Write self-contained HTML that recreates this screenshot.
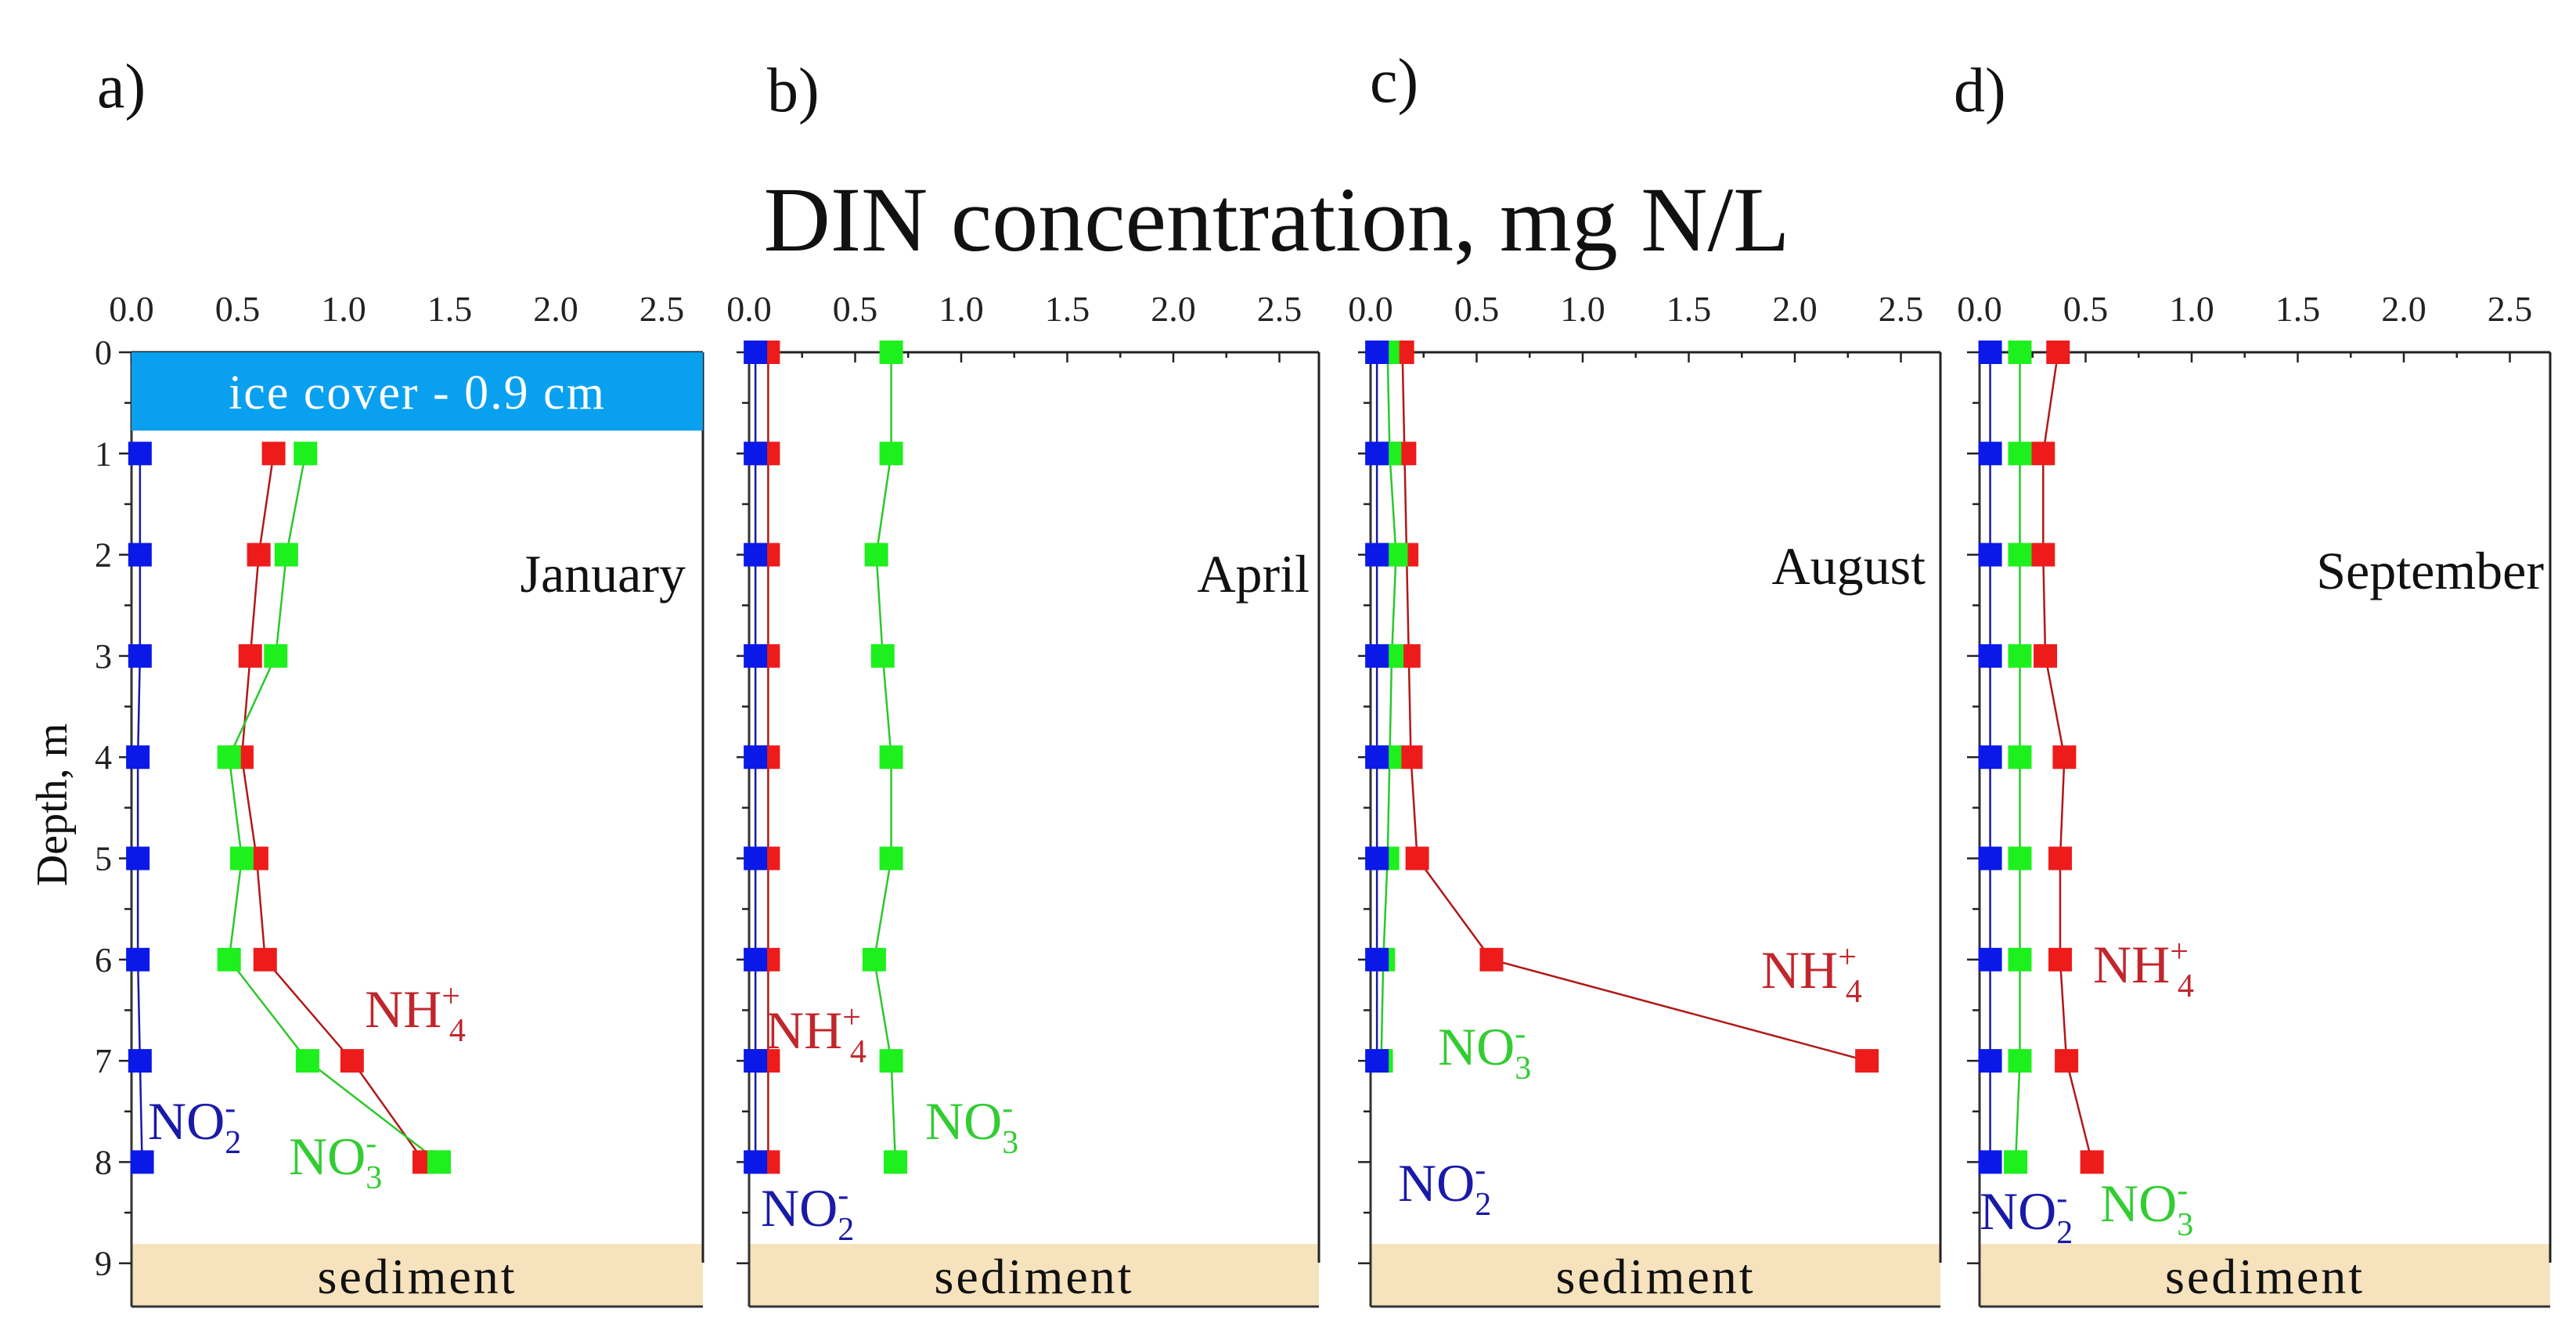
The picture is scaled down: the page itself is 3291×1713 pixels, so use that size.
<!DOCTYPE html>
<html><head><meta charset="utf-8"><style>
html,body{margin:0;padding:0;background:#fff;}
svg{display:block;font-family:"Liberation Serif",serif;}
</style></head><body>
<svg id="chart" width="3291" height="1713" viewBox="0 0 3291 1713" xmlns="http://www.w3.org/2000/svg">
<text x="1631" y="320" font-size="118" text-anchor="middle" fill="#111">DIN concentration, mg N/L</text>
<text x="72" y="1028" font-size="56" text-anchor="middle" fill="#111" transform="rotate(-90 72 1028)" dominant-baseline="middle">Depth, m</text>
</svg>
<script>
const depths = [0,1,2,3,4,5,6,7,8];
const panelLetters = ["a)","b)","c)","d)"];
const months = ["January","April","August","September"];
const xTickLabels = ["0.0","0.5","1.0","1.5","2.0","2.5"];
const yTickLabels = ["0","1","2","3","4","5","6","7","8","9"];
// values per depth (null = no sample)
const janNO2 = [null,0.04,0.04,0.04,0.03,0.03,0.03,0.04,0.05];
const janNH4 = [null,0.67,0.60,0.56,0.52,0.59,0.63,1.04,1.38];
const janNO3 = [null,0.82,0.73,0.68,0.46,0.52,0.46,0.83,1.45];
const aprNO2 = [0.03,0.03,0.03,0.03,0.03,0.03,0.03,0.03,0.03];
const aprNH4 = [0.09,0.09,0.09,0.09,0.09,0.09,0.09,0.09,0.09];
const aprNO3 = [0.67,0.67,0.60,0.63,0.67,0.67,0.59,0.67,0.69];
const augNO2 = [0.03,0.03,0.03,0.03,0.03,0.03,0.03,0.03,null];
const augNH4 = [0.15,0.16,0.17,0.18,0.19,0.22,0.57,2.34,null];
const augNO3 = [0.08,0.09,0.12,0.10,0.09,0.08,0.06,0.05,null];
const sepNO2 = [0.05,0.05,0.05,0.05,0.05,0.05,0.05,0.05,0.05];
const sepNH4 = [0.37,0.30,0.30,0.31,0.40,0.38,0.38,0.41,0.53];
const sepNO3 = [0.19,0.19,0.19,0.19,0.19,0.19,0.19,0.19,0.17];

const NS="http://www.w3.org/2000/svg";
const svg=document.getElementById('chart');
function mk(tag,attrs,parent){const e=document.createElementNS(NS,tag);for(const k in attrs)e.setAttribute(k,attrs[k]);(parent||svg).appendChild(e);return e;}

const panels=[
 {x0:168,right:898,no2:janNO2,nh4:janNH4,no3:janNO3,letter:[124,137],month:[876,756],ice:true,
  lab:{nh4:[466,1312],no2:[189,1455],no3:[369,1500]}},
 {x0:957,right:1685,no2:aprNO2,nh4:aprNH4,no3:aprNO3,letter:[980,142],month:[1673,756],
  lab:{nh4:[978,1339],no3:[1182,1455],no2:[972,1566]}},
 {x0:1751,right:2479,no2:augNO2,nh4:augNH4,no3:augNO3,letter:[1750,130],month:[2460,746],
  lab:{nh4:[2250,1262],no3:[1837,1360],no2:[1786,1534]}},
 {x0:2529,right:3258,no2:sepNO2,nh4:sepNH4,no3:sepNO3,letter:[2496,142],month:[3250,752],
  lab:{nh4:[2674,1255],no2:[2529,1570],no3:[2683,1560]}}
];
const unit=271, yTop=450, perM=129.3;
const yS=d=>yTop+perM*d;

panels.forEach((p,i)=>{
 const g=mk('g',{});
 
 
 const xS=v=>p.x0+unit*v;
 const L=p.x0;
 const lt=mk('text',{x:p.letter[0],y:p.letter[1],'font-size':80,fill:'#111'},g);lt.textContent=panelLetters[i];
 
 
 const sed=mk('rect',{x:L,y:1589,width:p.right-L,height:80,fill:'#f6e2bd'},g);
 
 
 mk('line',{x1:L,y1:1669,x2:p.right,y2:1669,stroke:'#333','stroke-width':3},g);
 const st=mk('text',{x:(L+p.right)/2,y:1652,'font-size':64,'text-anchor':'middle',fill:'#111','letter-spacing':3},g);st.textContent='sediment';
 
 
 mk('line',{x1:L,y1:yTop,x2:p.right,y2:yTop,stroke:'#222','stroke-width':3},g);
 mk('line',{x1:p.right,y1:yTop,x2:p.right,y2:1613,stroke:'#222','stroke-width':3},g);
 mk('line',{x1:L,y1:yTop,x2:L,y2:1669,stroke:'#333','stroke-width':3},g);
 for(let k=0;k<=10;k++){const v=k*0.25;const x=xS(v);
  mk('line',{x1:x,y1:yTop,x2:x,y2:yTop+(k%2==0?13:7),stroke:'#222','stroke-width':2.5},g);}
 xTickLabels.forEach(t=>{const tx=mk('text',{x:xS(parseFloat(t)),y:410,'font-size':46,'text-anchor':'middle',fill:'#222'},g);tx.textContent=t;
  
  });
 for(let k=0;k<=18;k++){const y=yS(k/2);
  mk('line',{x1:L-(k%2==0?16:9),y1:y,x2:L,y2:y,stroke:'#222','stroke-width':2.5},g);}
 if(i===0){yTickLabels.forEach((t,k)=>{const ty=mk('text',{x:143,y:yS(k)+15,'font-size':44,'text-anchor':'end',fill:'#222'},g);ty.textContent=t;
  
  });}
 if(p.ice){const ic=mk('rect',{x:L,y:yTop,width:p.right-L,height:100,fill:'#0aa0f0'},g);
  
  
  const it=mk('text',{x:(L+p.right)/2,y:522,'font-size':62,'text-anchor':'middle',fill:'#fff','letter-spacing':2},g);it.textContent='ice cover - 0.9 cm';
  
  }
 const mt=mk('text',{x:p.month[0],y:p.month[1],'font-size':68,'text-anchor':'end',fill:'#111'},g);mt.textContent=months[i];
 
 
 const series=[['nh4',p.nh4,'#b01818','#ee1b1b'],['no3',p.no3,'#2bc82b','#1df01d'],['no2',p.no2,'#1a1aa0','#0a18e8']];
 series.forEach(([nm,vals,lc,mc])=>{
  const pts=[];vals.forEach((v,j)=>{if(v!==null)pts.push([xS(v),yS(depths[j])]);});
  const pl=mk('polyline',{points:pts.map(q=>q.join(',')).join(' '),fill:'none',stroke:lc,'stroke-width':2.5},g);
  
  
 });
 series.forEach(([nm,vals,lc,mc])=>{
  vals.forEach((v,j)=>{if(v===null)return;
   const r=mk('rect',{x:xS(v)-15,y:yS(depths[j])-15,width:30,height:30,fill:mc},g);
   
   });
 });
 const labs=[['nh4','NH','4','+','#c0272d'],['no3','NO','3','-','#33cc33'],['no2','NO','2','-','#1a1aa8']];
 labs.forEach(([k,base,sub,sup,col])=>{const pos=p.lab[k];
  const t=mk('text',{x:pos[0],y:pos[1],'font-size':68,fill:col},g);
  
  
  const a=mk('tspan',{},t);a.textContent=base;
  const b=mk('tspan',{'font-size':42,dy:-26},t);b.textContent=sup;
  const c=mk('tspan',{'font-size':42,dx:-14,dy:44},t);c.textContent=sub;
 });
});
</script>
</body></html>
